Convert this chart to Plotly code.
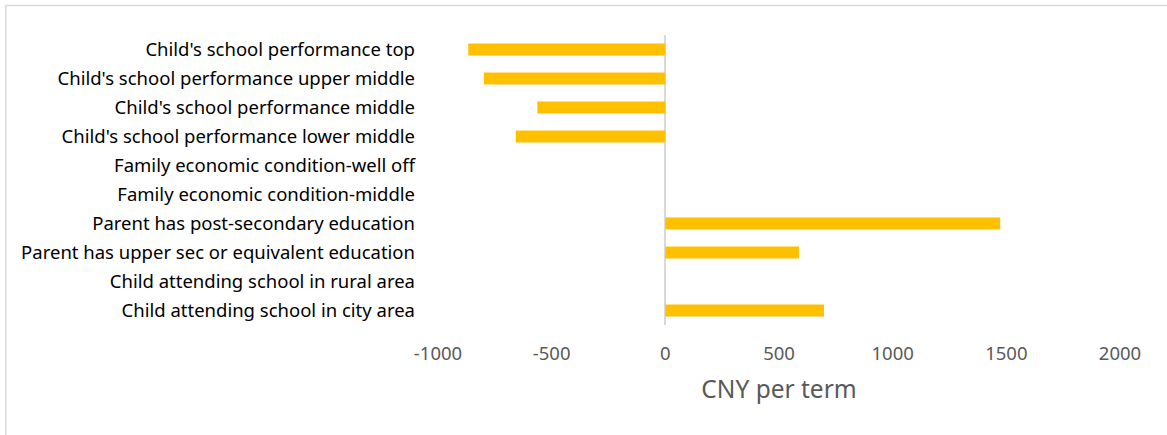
import plotly.graph_objects as go

# Categories listed bottom to top (as plotted)
categories = [
    "Child attending school in city area",
    "Child attending school in rural area",
    "Parent has upper sec or equivalent education",
    "Parent has post-secondary education",
    "Family economic condition-middle",
    "Family economic condition-well off",
    "Child's school performance lower middle",
    "Child's school performance middle",
    "Child's school performance upper middle",
    "Child's school performance top",
]
cny_per_term = [698, 0, 588, 1473, 0, 0, -658, -563, -798, -867]

x_ticks = [-1000, -500, 0, 500, 1000, 1500, 2000]

W, H = 1167, 435
L, R, T, B = 437.5, 47, 34.5, 109.5
pw, ph = W - L - R, H - T - B

fig = go.Figure(
    go.Bar(
        x=cny_per_term,
        y=categories,
        orientation="h",
        marker=dict(color="#FFC000", line=dict(width=0)),
        hoverinfo="x+y",
    )
)

font_family = "'Noto Sans', 'Open Sans', sans-serif"

fig.update_layout(
    width=W,
    height=H,
    margin=dict(l=L, r=R, t=T, b=B, pad=0),
    paper_bgcolor="white",
    plot_bgcolor="white",
    bargap=0.58,
    showlegend=False,
    font=dict(family=font_family),
    xaxis=dict(
        range=[-1000, 2000],
        tickvals=x_ticks,
        ticktext=[str(v) for v in x_ticks],
        showgrid=False,
        zeroline=True,
        zerolinecolor="#D9D9D9",
        zerolinewidth=1.5,
        showline=False,
        ticks="",
        tickfont=dict(size=18.5, color="#595959"),
        ticklabelstandoff=15,
        title=dict(text="CNY per term", font=dict(size=24.5, color="#595959"), standoff=17),
        fixedrange=True,
    ),
    yaxis=dict(
        type="category",
        categoryorder="array",
        categoryarray=categories,
        showgrid=False,
        zeroline=False,
        showline=False,
        ticks="",
        tickfont=dict(size=18.5, color="#000000"),
        ticklabelstandoff=22,
        fixedrange=True,
    ),
)

# Light frame around the chart area (right and bottom edges run off the canvas)
fig.add_shape(
    type="rect",
    xref="paper", yref="paper",
    x0=(5 - L) / pw, x1=(1175 - L) / pw,
    y0=-(445 - (H - B)) / ph, y1=1 + (T - 5) / ph,
    line=dict(color="#D9D9D9", width=1.5),
    fillcolor="rgba(0,0,0,0)",
    layer="below",
)

fig.write_html("out.html")
